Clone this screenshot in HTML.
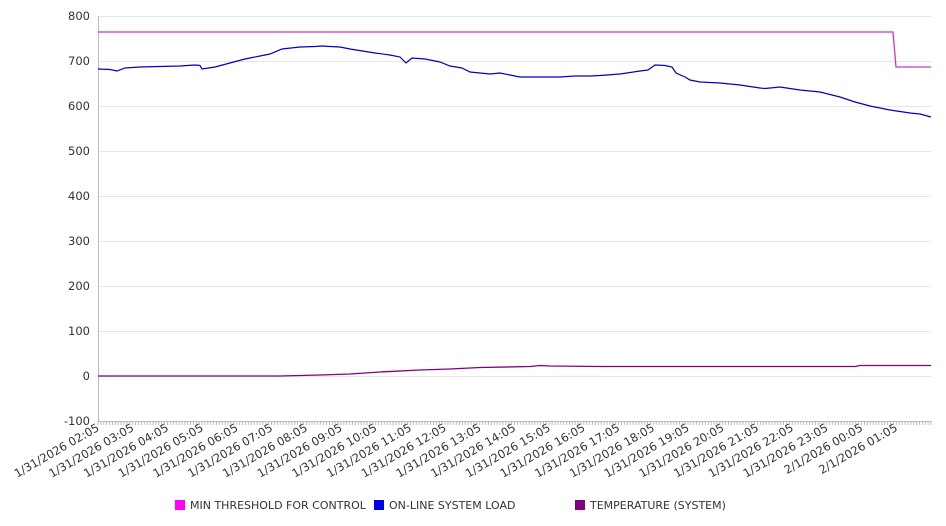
<!DOCTYPE html>
<html><head><meta charset="utf-8"><style>
body{margin:0;background:#fff;}
svg{display:block;font-family:"DejaVu Sans","Liberation Sans",sans-serif;}
</style></head><body>
<svg width="946" height="526" viewBox="0 0 946 526" xmlns="http://www.w3.org/2000/svg">
<g stroke="#e6e6e6" stroke-width="1">
<line x1="98" y1="16.5" x2="931" y2="16.5"/>
<line x1="98" y1="61.5" x2="931" y2="61.5"/>
<line x1="98" y1="106.5" x2="931" y2="106.5"/>
<line x1="98" y1="151.5" x2="931" y2="151.5"/>
<line x1="98" y1="196.5" x2="931" y2="196.5"/>
<line x1="98" y1="241.5" x2="931" y2="241.5"/>
<line x1="98" y1="286.5" x2="931" y2="286.5"/>
<line x1="98" y1="331.5" x2="931" y2="331.5"/>
<line x1="98" y1="376.5" x2="931" y2="376.5"/>
</g>
<line x1="98.5" y1="16" x2="98.5" y2="421" stroke="#bbb"/>
<line x1="98" y1="421.5" x2="931" y2="421.5" stroke="#bbb"/>
<g id="ticks" stroke="#bbb"></g>
<g font-size="11.5" fill="#333" text-anchor="end">
<text x="90" y="20">800</text><text x="90" y="65">700</text><text x="90" y="110">600</text>
<text x="90" y="155">500</text><text x="90" y="200">400</text><text x="90" y="245">300</text>
<text x="90" y="290">200</text><text x="90" y="335">100</text><text x="90" y="380">0</text>
<text x="90" y="425">-100</text>
</g>
<g id="xl" font-size="11.5" fill="#333" text-anchor="end"></g>
<polyline fill="none" stroke="#cc33cc" stroke-width="1.3" points="98,32 893,32 896,67 931,67"/>
<polyline fill="none" stroke="#800080" stroke-width="1.3" points="98,376 280,376 300,375.5 320,375 350,374 380,372 420,370 450,369 480,367.5 530,366.5 540,365.5 550,366 600,366.5 700,366.5 855,366.5 860,365.5 931,365.5"/>
<polyline fill="none" stroke="#0000cc" stroke-width="1.2" points="98,69 110,69.5 117,71 125,68 140,67 160,66.5 180,66 195,65 200,65.5 202,69 215,67 230,63 245,59 260,56 270,54 282,49 300,47 315,46.5 322,46 330,46.5 340,47 350,49 375,53 390,55 400,57 406,63 412,58 425,59 440,62 450,66 462,68 470,72 480,73 490,74 500,73 510,75 520,77 540,77 560,77 575,76 590,76 600,75.5 620,74 640,71 648,70 655,65 665,65.5 672,67 676,73 685,77 690,80 700,82 720,83 740,85 760,88 765,88.5 780,87 800,90 820,92 840,97 855,102 870,106 890,110 910,113 920,114 931,117"/>
<g font-size="11" fill="#333">
<rect x="175" y="500" width="10" height="10" fill="#ff00ff"/><text x="190" y="509">MIN THRESHOLD FOR CONTROL</text>
<rect x="374" y="500" width="10" height="10" fill="#0000ee"/><text x="389" y="509">ON-LINE SYSTEM LOAD</text>
<rect x="575" y="500" width="10" height="10" fill="#800080"/><text x="590" y="509">TEMPERATURE (SYSTEM)</text>
</g>
</svg>
<script>
var t=document.getElementById('ticks'),s='';
for(var i=0;i<=288;i++){var x=(98+i*833/288).toFixed(1);s+='<line x1="'+x+'" y1="421" x2="'+x+'" y2="425"/>';}
t.innerHTML=s;
var g=document.getElementById('xl'),h='';
for(var k=0;k<24;k++){var x=98+k*833/24;var hr=(2+k)%24;var d=(2+k)>=24?'2/1/2026 ':'1/31/2026 ';var lab=d+(hr<10?'0':'')+hr+':05';
h+='<text transform="translate('+(x+2).toFixed(1)+',430) rotate(-30)">'+lab+'</text>';}
g.innerHTML=h;
</script>
</body></html>
